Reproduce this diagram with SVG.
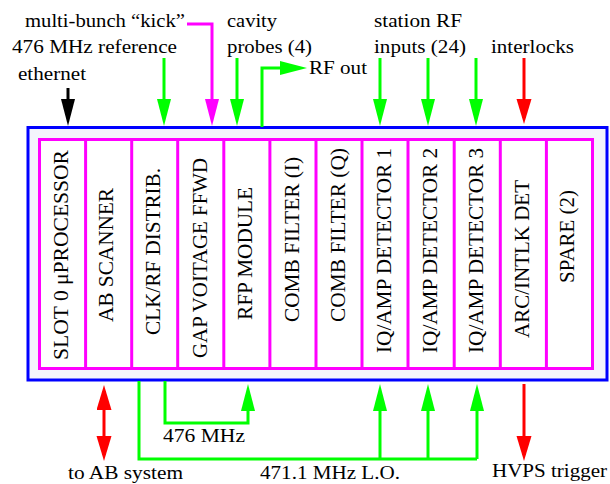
<svg xmlns="http://www.w3.org/2000/svg" width="610" height="484" viewBox="0 0 610 484" font-family="'Liberation Serif', 'Times New Roman', serif">
<style>
text{font-family:'Liberation Serif','Times New Roman',serif;fill:#000}
.lbl{font-size:18px}
.slot{font-size:21px}
.ln{fill:none;stroke-width:3}
.g{stroke:#00ff00}
.r{stroke:#ff0000}
.m{stroke:#ff00ff}
.k{stroke:#000000}
.div{stroke:#ff00ff;stroke-width:3}
</style>
<defs>
<marker id="ag" markerUnits="userSpaceOnUse" markerWidth="30" markerHeight="16" refX="19" refY="7" orient="auto-start-reverse"><path d="M0,0 L27,7 L0,14 z" fill="#00ff00"/></marker>
<marker id="ar" markerUnits="userSpaceOnUse" markerWidth="30" markerHeight="16" refX="19" refY="7.5" orient="auto-start-reverse"><path d="M0,0 L25,7.5 L0,15 z" fill="#ff0000"/></marker>
<marker id="am" markerUnits="userSpaceOnUse" markerWidth="30" markerHeight="16" refX="19" refY="7" orient="auto-start-reverse"><path d="M0,0 L27,7 L0,14 z" fill="#ff00ff"/></marker>
<marker id="ak" markerUnits="userSpaceOnUse" markerWidth="30" markerHeight="16" refX="19" refY="7" orient="auto-start-reverse"><path d="M0,0 L27,7 L0,14 z" fill="#000000"/></marker>
</defs>
<rect width="610" height="484" fill="#ffffff"/>
<g id="crate">
<rect x="28" y="127.5" width="579" height="252.5" fill="#f4f4fc" stroke="#0000ff" stroke-width="3"/>
<rect x="39.5" y="139.5" width="553" height="229" fill="#ffffff" stroke="#ff00ff" stroke-width="3"/>
</g>
<g id="slot0"><line class="div" x1="85.6" y1="139.5" x2="85.6" y2="368.5"/><text class="slot" font-family="Liberation Serif" transform="translate(68,360) rotate(-90)" textLength="210" lengthAdjust="spacingAndGlyphs">SLOT 0 μPROCESSOR</text></g>
<g id="slot1"><line class="div" x1="131.7" y1="139.5" x2="131.7" y2="368.5"/><text class="slot" font-family="Liberation Serif" transform="translate(113,322) rotate(-90)" textLength="134" lengthAdjust="spacingAndGlyphs">AB SCANNER</text></g>
<g id="slot2"><line class="div" x1="177.7" y1="139.5" x2="177.7" y2="368.5"/><text class="slot" font-family="Liberation Serif" transform="translate(160,335) rotate(-90)" textLength="167" lengthAdjust="spacingAndGlyphs">CLK/RF DISTRIB.</text></g>
<g id="slot3"><line class="div" x1="223.8" y1="139.5" x2="223.8" y2="368.5"/><text class="slot" font-family="Liberation Serif" transform="translate(207,358) rotate(-90)" textLength="200" lengthAdjust="spacingAndGlyphs">GAP VOITAGE FFWD</text></g>
<g id="slot4"><line class="div" x1="269.9" y1="139.5" x2="269.9" y2="368.5"/><text class="slot" font-family="Liberation Serif" transform="translate(252,320) rotate(-90)" textLength="133" lengthAdjust="spacingAndGlyphs">RFP MODULE</text></g>
<g id="slot5"><line class="div" x1="316" y1="139.5" x2="316" y2="368.5"/><text class="slot" font-family="Liberation Serif" transform="translate(299,322) rotate(-90)" textLength="165" lengthAdjust="spacingAndGlyphs">COMB FILTER (I)</text></g>
<g id="slot6"><line class="div" x1="362" y1="139.5" x2="362" y2="368.5"/><text class="slot" font-family="Liberation Serif" transform="translate(345,322) rotate(-90)" textLength="174" lengthAdjust="spacingAndGlyphs">COMB FILTER (Q)</text></g>
<g id="slot7"><line class="div" x1="408" y1="139.5" x2="408" y2="368.5"/><text class="slot" font-family="Liberation Serif" transform="translate(391,353) rotate(-90)" textLength="205" lengthAdjust="spacingAndGlyphs">IQ/AMP DETECTOR 1</text></g>
<g id="slot8"><line class="div" x1="454.2" y1="139.5" x2="454.2" y2="368.5"/><text class="slot" font-family="Liberation Serif" transform="translate(437,353) rotate(-90)" textLength="205" lengthAdjust="spacingAndGlyphs">IQ/AMP DETECTOR 2</text></g>
<g id="slot9"><line class="div" x1="500.3" y1="139.5" x2="500.3" y2="368.5"/><text class="slot" font-family="Liberation Serif" transform="translate(483,353) rotate(-90)" textLength="205" lengthAdjust="spacingAndGlyphs">IQ/AMP DETECTOR 3</text></g>
<g id="slot10"><line class="div" x1="546.4" y1="139.5" x2="546.4" y2="368.5"/><text class="slot" font-family="Liberation Serif" transform="translate(529,338) rotate(-90)" textLength="158" lengthAdjust="spacingAndGlyphs">ARC/INTLK DET</text></g>
<g id="slot11"><text class="slot" font-family="Liberation Serif" transform="translate(574,283) rotate(-90)" textLength="93" lengthAdjust="spacingAndGlyphs">SPARE (2)</text></g>
<g id="connectors">
<path class="ln k" d="M68,88 V118" marker-end="url(#ak)"/>
<path class="ln g" d="M164,58 V118" marker-end="url(#ag)"/>
<path class="ln m" d="M187,24 H212 V118" marker-end="url(#am)"/>
<path class="ln g" d="M237,58 V118" marker-end="url(#ag)"/>
<path class="ln g" d="M262,127 V68 H299" marker-end="url(#ag)"/>
<path class="ln g" d="M380,58 V118" marker-end="url(#ag)"/>
<path class="ln g" d="M428,58 V118" marker-end="url(#ag)"/>
<path class="ln g" d="M476,58 V118" marker-end="url(#ag)"/>
<path class="ln r" d="M524,58 V118" marker-end="url(#ar)"/>
<path class="ln r" d="M104,391 V455" marker-start="url(#ar)" marker-end="url(#ar)"/>
<path class="ln g" d="M165,381 V423 H248 V392" marker-end="url(#ag)"/>
<path class="ln g" d="M139,381 V459 H477"/>
<path class="ln g" d="M380,459 V392" marker-end="url(#ag)"/>
<path class="ln g" d="M428,459 V392" marker-end="url(#ag)"/>
<path class="ln g" d="M477,459 V392" marker-end="url(#ag)"/>
<path class="ln r" d="M524,384 V455" marker-end="url(#ar)"/>
</g>
<g id="labels" font-family="Liberation Serif">
<text class="lbl" x="25" y="27" textLength="160" lengthAdjust="spacingAndGlyphs">multi-bunch “kick”</text>
<text class="lbl" x="12" y="53" textLength="165" lengthAdjust="spacingAndGlyphs">476 MHz reference</text>
<text class="lbl" x="18" y="80" textLength="68" lengthAdjust="spacingAndGlyphs">ethernet</text>
<text class="lbl" x="227" y="27" textLength="50" lengthAdjust="spacingAndGlyphs">cavity</text>
<text class="lbl" x="227" y="53" textLength="85" lengthAdjust="spacingAndGlyphs">probes (4)</text>
<text class="lbl" x="309" y="74" textLength="58" lengthAdjust="spacingAndGlyphs">RF out</text>
<text class="lbl" x="374" y="27" textLength="88" lengthAdjust="spacingAndGlyphs">station RF</text>
<text class="lbl" x="374" y="53" textLength="92" lengthAdjust="spacingAndGlyphs">inputs (24)</text>
<text class="lbl" x="491" y="53" textLength="83" lengthAdjust="spacingAndGlyphs">interlocks</text>
<text class="lbl" x="163" y="442" textLength="82" lengthAdjust="spacingAndGlyphs">476 MHz</text>
<text class="lbl" x="68" y="479" textLength="115" lengthAdjust="spacingAndGlyphs">to AB system</text>
<text class="lbl" x="260" y="479" textLength="140" lengthAdjust="spacingAndGlyphs">471.1 MHz L.O.</text>
<text class="lbl" x="492" y="477" textLength="115" lengthAdjust="spacingAndGlyphs">HVPS trigger</text>
</g>
</svg>
